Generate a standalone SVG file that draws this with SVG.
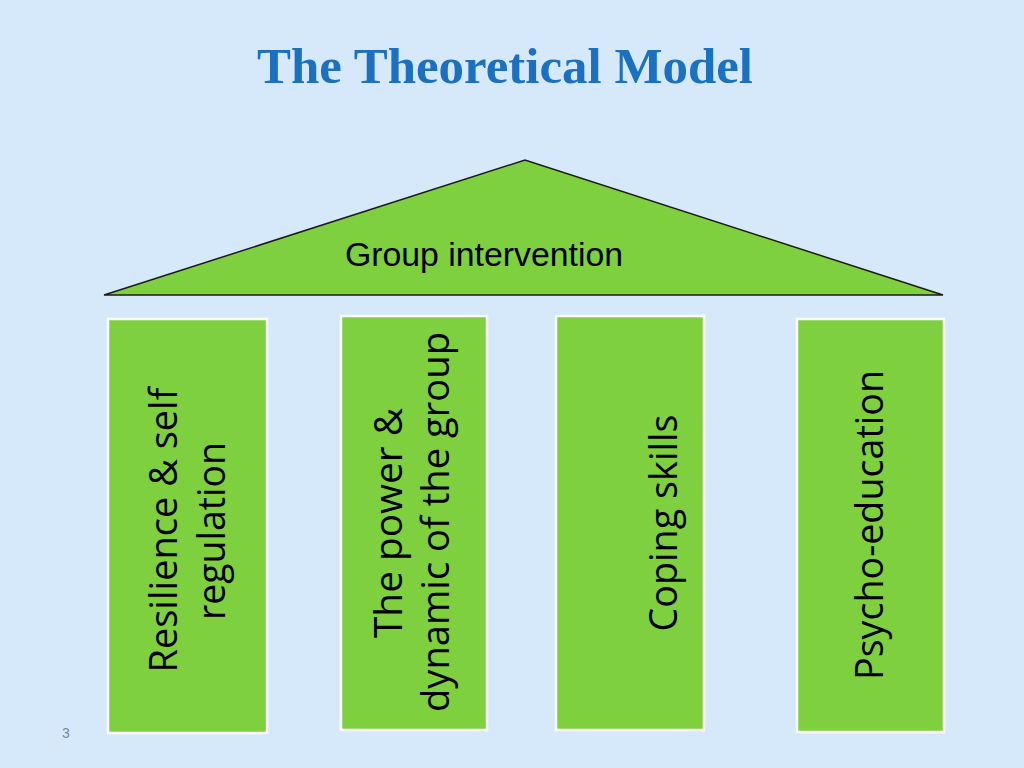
<svg xmlns="http://www.w3.org/2000/svg" width="1024" height="768" viewBox="0 0 1024 768">
<style>
.pillar{fill:#7ed03e;stroke:#ffffff;stroke-width:2.5}
.roof{fill:#7ed03e;stroke:#1a1a1a;stroke-width:1.5;stroke-linejoin:miter}
.ptxt{font-family:"Open Sans","Noto Sans",sans-serif;font-size:38px;fill:#000000;text-anchor:middle}
.title{font-family:"Liberation Serif","Times New Roman",serif;font-weight:bold;font-size:51px;fill:#1c70c0}
.gtxt{font-family:"Liberation Sans",Arial,sans-serif;font-size:34px;fill:#000000}
</style>
<rect x="0" y="0" width="1024" height="768" fill="#d5e9fb"/>
<text class="title" x="257" y="83" textLength="496" lengthAdjust="spacingAndGlyphs">The Theoretical Model</text>
<g id="roof">
<polygon class="roof" points="104,295 525,160 943,295"/>
<text class="gtxt" x="345" y="266" textLength="278" lengthAdjust="spacingAndGlyphs">Group intervention</text>
</g>
<g id="connectors"></g>
<g id="pillar1">
<rect class="pillar" x="108" y="319" width="159" height="414"/>
<g transform="translate(177,530) rotate(-90)"><text class="ptxt" x="0" y="0" textLength="285" lengthAdjust="spacingAndGlyphs">Resilience &amp; self</text></g>
<g transform="translate(225,531) rotate(-90)"><text class="ptxt" x="0" y="0" textLength="178" lengthAdjust="spacingAndGlyphs">regulation</text></g>
</g>
<g id="pillar2">
<rect class="pillar" x="341" y="316" width="146" height="414"/>
<g transform="translate(402,523) rotate(-90)"><text class="ptxt" x="0" y="0" textLength="230" lengthAdjust="spacingAndGlyphs">The power &amp;</text></g>
<g transform="translate(449,522) rotate(-90)"><text class="ptxt" x="0" y="0" textLength="380" lengthAdjust="spacingAndGlyphs">dynamic of the group</text></g>
</g>
<g id="pillar3">
<rect class="pillar" x="556" y="316" width="148" height="414"/>
<g transform="translate(677,523) rotate(-90)"><text class="ptxt" x="0" y="0" textLength="217" lengthAdjust="spacingAndGlyphs">Coping skills</text></g>
</g>
<g id="pillar4">
<rect class="pillar" x="797" y="319" width="147" height="413"/>
<g transform="translate(883,525) rotate(-90)"><text class="ptxt" x="0" y="0" textLength="310" lengthAdjust="spacingAndGlyphs">Psycho-education</text></g>
</g>
<text x="62" y="738" font-family="Liberation Sans, Arial, sans-serif" font-size="14" fill="#7a8796">3</text>
</svg>
